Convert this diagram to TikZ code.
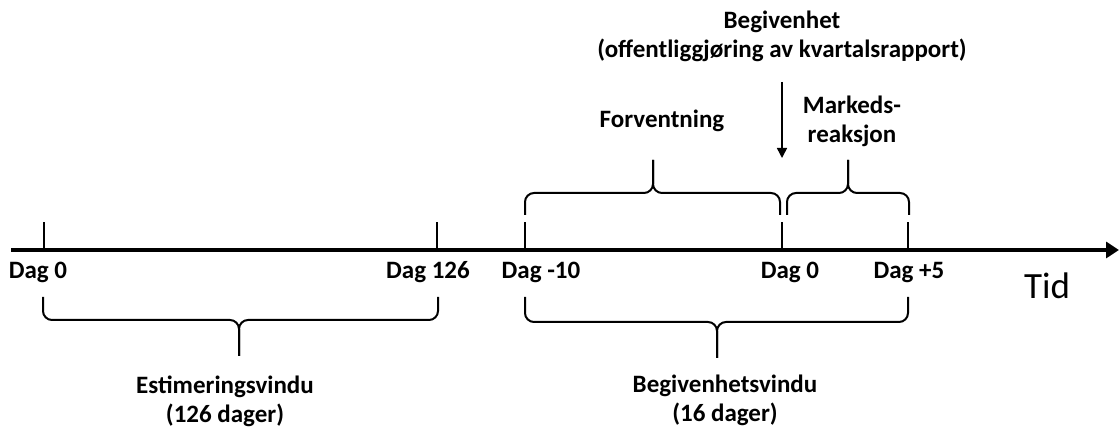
\documentclass[tikz,border=0pt]{standalone}
\usepackage{fontspec}
\setmainfont{Carlito}
\usetikzlibrary{arrows.meta,positioning}

\tikzset{
  merke/.style={font=\bfseries\fontsize{25}{29}\selectfont, anchor=base, inner sep=0pt, align=center},
  tidtekst/.style={font=\fontsize{37}{40}\selectfont, anchor=base, inner sep=0pt},
  tikk/.style={line width=2pt},
  klamme/.style={line width=2pt, rounded corners=9pt},
}

\begin{document}
\begin{tikzpicture}[x=1pt,y=-1pt]
\useasboundingbox (0,0) rectangle (1119,427);

% tidsaksen
\coordinate (start) at (11,250);
\coordinate (slutt) at (1119,250);
\draw[line width=4.5pt, -{Triangle[length=13pt,width=16pt]}] (start) -- (slutt);
\node[tidtekst] (tid) at (1047,299) {Tid};

% merker paa aksen
\coordinate (e0) at (44,250);
\coordinate (e126) at (437,250);
\coordinate (h10) at (525,250);
\coordinate (h0) at (782,250);
\coordinate (h5) at (908,250);
\foreach \p in {e0,e126,h10,h0,h5}
  \draw[tikk] (\p) -- ++(0,-28);

\node[merke] (dag0) at (38,279) {Dag 0};
\node[merke] (dag126) at (428,279) {Dag 126};
\node[merke] (dagm10) at (541,279) {Dag -10};
\node[merke] (daghend) at (790,279) {Dag 0};
\node[merke] (dagp5) at (909,279) {Dag +5};

% klammer over aksen
\draw[klamme] (525,215) -- (525,193) -- (653,193) -- (653,160);
\draw[klamme] (780,215) -- (780,193) -- (653,193) -- (653,160);
\draw[klamme] (787,215) -- (787,193) -- (848,193) -- (848,160);
\draw[klamme] (909,215) -- (909,193) -- (848,193) -- (848,160);
\node[merke] (forv) at (662,128) {Forventning};
\node[merke] (mark) at (852,143) {Markeds-\\reaksjon};

% begivenheten
\node[merke] (beg) at (782,58) {Begivenhet\\(offentliggjøring av kvartalsrapport)};
\coordinate (pilfra) at (782,82);
\coordinate (piltil) at (782,158);
\draw[line width=1.5pt, -{Triangle[length=10pt,width=10pt]}] (pilfra) -- (piltil);

% klammer under aksen
\draw[klamme] (43,297) -- (43,320) -- (239,320) -- (239,356);
\draw[klamme] (438,297) -- (438,320) -- (239,320) -- (239,356);
\draw[klamme] (525,297) -- (525,322) -- (717,322) -- (717,358);
\draw[klamme] (908,297) -- (908,322) -- (717,322) -- (717,358);
\node[merke] (estv) at (225,422) {Estimeringsvindu\\(126 dager)};
\node[merke] (begv) at (725,421) {Begivenhetsvindu\\(16 dager)};
\end{tikzpicture}
\end{document}
